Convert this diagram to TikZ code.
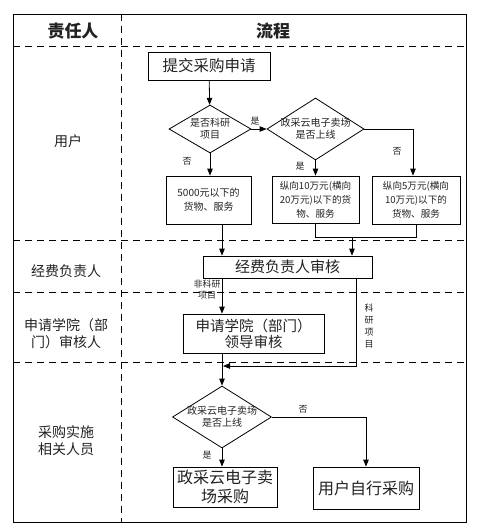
\documentclass[tikz,border=0pt]{standalone}
\usepackage{fontspec}
\setmainfont{Noto Sans CJK SC}
\usetikzlibrary{arrows.meta,shapes.geometric}
\definecolor{txt}{HTML}{222222}
\tikzset{
  frame/.style={line width=0.9pt},
  sep/.style={line width=0.9pt, dash pattern=on 7pt off 5pt},
  box/.style={draw, line width=0.8pt, rectangle, inner sep=0pt, align=center, text=txt},
  dia/.style={draw, line width=0.8pt, diamond, inner sep=0pt},
  dtext/.style={align=center, font=\fontsize{10}{12}\selectfont, text=txt},
  arr/.style={line width=0.8pt, -{Triangle[length=7pt,width=5.5pt]}},
  ln/.style={line width=0.8pt},
  lbl/.style={font=\fontsize{9}{11}\selectfont, text=txt, inner sep=0pt},
  lane/.style={font=\fontsize{14}{17}\selectfont, text=txt, align=center},
  head/.style={font=\bfseries\fontsize{17}{20}\selectfont, text=txt},
}
\begin{document}
\begin{tikzpicture}[x=1pt,y=-1pt]
\useasboundingbox (0,0) rectangle (483,531);
% frame and lanes
\draw[frame] (13,14) rectangle (466,522);
\draw[sep] (13,46) -- (466,46);
\draw[sep] (13,240) -- (466,240);
\draw[sep] (13,292) -- (466,292);
\draw[sep] (13,362) -- (466,362);
\draw[sep] (121,14) -- (121,522);
% headers
\node[head] (h1) at (73,31) {责任人};
\node[head] (h2) at (273,31) {流程};
\node[lane] (l1) at (68,141) {用户};
\node[lane] (l2) at (66,271) {经费负责人};
\node[lane] (l3) at (66,334) {申请学院（部\\门）审核人};
\node[lane] (l4) at (66,441) {采购实施\\相关人员};
% nodes
\node[box, minimum width=122, minimum height=28, font=\fontsize{15.5}{17}\selectfont] (start) at (209,66) {提交采购申请};
\node[dia, minimum width=82, minimum height=48] (d1) at (210,129) {};
\node[dtext] (d1t) at (d1) {是否科研\\项目};
\node[dia, minimum width=97, minimum height=62] (d2) at (315.5,129) {};
\node[dtext] (d2t) at (d2) {政采云电子卖场\\是否上线};
\node[box, minimum width=85, minimum height=48, font=\fontsize{10}{14}\selectfont] (b1) at (208.5,200) {5000元以下的\\货物、服务};
\node[box, minimum width=87, minimum height=47, font=\fontsize{9.6}{14}\selectfont] (b2) at (315.5,199.5) {纵向10万元(横向\\20万元)以下的货\\物、服务};
\node[box, minimum width=88, minimum height=48, font=\fontsize{9.6}{14}\selectfont] (b3) at (416,200) {纵向5万元(横向\\10万元)以下的\\货物、服务};
\node[box, minimum width=169, minimum height=22, font=\fontsize{15}{17}\selectfont] (jf) at (287.5,267) {经费负责人审核};
\node[box, minimum width=141, minimum height=39, font=\fontsize{14.5}{16}\selectfont] (sq) at (253.5,333.5) {申请学院（部门）\\领导审核};
\node[dia, minimum width=99, minimum height=62] (d3) at (222,417) {};
\node[dtext] (d3t) at (d3) {政采云电子卖场\\是否上线};
\node[box, minimum width=104, minimum height=40, font=\fontsize{16}{19}\selectfont] (p1) at (225,487) {政采云电子卖\\场采购};
\node[box, minimum width=106, minimum height=42, font=\fontsize{16}{19}\selectfont] (p2) at (366,488) {用户自行采购};
% helper coordinates
\coordinate (colA) at (222,0);
\coordinate (colB) at (356,0);
\coordinate (colM) at (352,0);
\coordinate (colR) at (413,0);
\coordinate (merge) at (222,366);
\coordinate (join) at (352,237);
% connectors
\draw[arr] (start) -- (d1);
\draw[arr] (d1.east) -- node[lbl, above=3pt, pos=0.25] (ly1) {是} (d2.west);
\draw[arr] (d1.south) -- (b1.north -| d1.south);
\node[lbl] (ln1) at (187,161) {否};
\draw[arr] (d2.south) -- (b2.north -| d2.south);
\node[lbl] (ly2) at (300,166) {是};
\draw[arr] (d2.east) -| (b3.north -| colR);
\node[lbl] (ln2) at (397,151) {否};
\draw[ln] (b2.south) -- ++(0,14) -| (b3.south);
\draw[arr] (join) -- (jf.north -| colM);
\draw[arr] (b1.south -| colA) -- (jf.north -| colA);
\draw[arr] (jf.south -| colA) -- (sq.north -| colA);
\node[lbl, align=center] (lf) at (207,290) {非科研\\项目};
\draw[arr] (jf.south -| colB) -- (colB |- merge) -- ([xshift=1pt]merge);
\node[lbl, align=center, font=\fontsize{9}{12}\selectfont] (lk) at (369,326) {科\\研\\项\\目};
\draw[arr] (sq.south -| colA) -- (d3.north);
\draw[arr] (d3.south) -- (p1.north -| d3.south);
\node[lbl] (ly3) at (207,455) {是};
\draw[arr] (d3.east) -| (p2.north);
\node[lbl] (ln3) at (303,409) {否};
\end{tikzpicture}
\end{document}
